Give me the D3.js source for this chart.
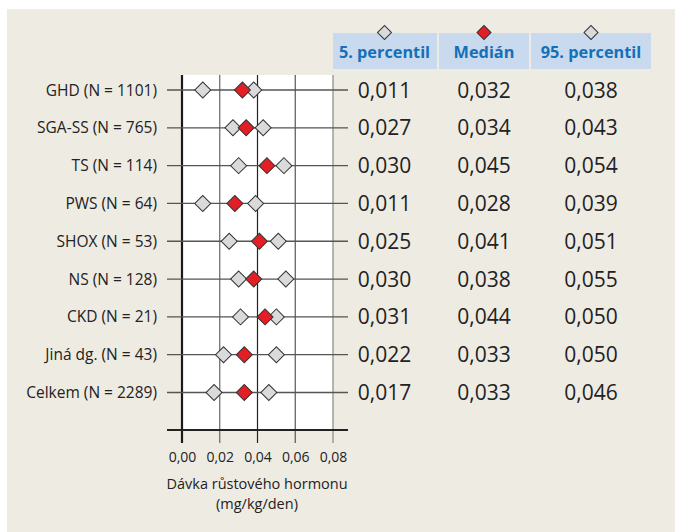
<!DOCTYPE html>
<html>
<head>
<meta charset="utf-8">
<script src="https://cdn.jsdelivr.net/npm/d3@7"></script>
<style>
  html, body { margin: 0; padding: 0; background: #ffffff; }
  svg { display: block; font-family: "Open Sans", "Noto Sans", sans-serif; }
</style>
</head>
<body>
<svg id="chart" width="675" height="532"></svg>
<script>
// Growth hormone dose by diagnosis (mg/kg/den)
const categories = [
  "GHD (N = 1101)", "SGA-SS (N = 765)", "TS (N = 114)", "PWS (N = 64)",
  "SHOX (N = 53)", "NS (N = 128)", "CKD (N = 21)", "Jiná dg. (N = 43)", "Celkem (N = 2289)"
];
const p5     = [0.011, 0.027, 0.030, 0.011, 0.025, 0.030, 0.031, 0.022, 0.017];
const median = [0.032, 0.034, 0.045, 0.028, 0.041, 0.038, 0.044, 0.033, 0.033];
const p95    = [0.038, 0.043, 0.054, 0.039, 0.051, 0.055, 0.050, 0.050, 0.046];
const xTicks = [0, 0.02, 0.04, 0.06, 0.08];
const columnTitles = ["5. percentil", "Medián", "95. percentil"];

const svg = d3.select("#chart");

// panel background
svg.append("rect").attr("x", 7).attr("y", 9).attr("width", 668).attr("height", 523).attr("fill", "#eeebe3");

const x = d3.scaleLinear().domain([0, 0.08]).range([182, 333]);
const y = d3.scalePoint().domain(categories).range([90, 392.5]);
const plotTop = 75, plotBottom = 430;

const grey = "#d9dadc", red = "#e31e25", edge = "#333";
const diamond = d3.symbol().type(d3.symbolSquare).size(128);
const smallDiamond = d3.symbol().type(d3.symbolSquare).size(98);
const fmt = v => d3.format(".3f")(v).replace(".", ",");

// white plot field
svg.append("rect")
  .attr("x", x(0)).attr("y", plotTop)
  .attr("width", x(0.08) - x(0)).attr("height", plotBottom - plotTop)
  .attr("fill", "#ffffff");

// vertical grid lines (extend below the axis as ticks)
const gridColor = ["#1a1a1a", "#666", "#222", "#555", "#888"];
svg.append("g").selectAll("line").data(xTicks).join("line")
  .attr("x1", d => x(d)).attr("x2", d => x(d))
  .attr("y1", plotTop).attr("y2", 443)
  .attr("stroke", (d, i) => gridColor[i])
  .attr("stroke-width", (d, i) => i === 0 ? 2.2 : 1.2);

// row lines
svg.append("g").selectAll("line").data(categories).join("line")
  .attr("x1", 167).attr("x2", 348)
  .attr("y1", d => y(d)).attr("y2", d => y(d))
  .attr("stroke", "#555").attr("stroke-width", 1.3);

// bottom axis
const axis = d3.axisBottom(x).tickValues(xTicks).tickFormat(d => d3.format(".2f")(d).replace(".", ",")).tickSize(0).tickPadding(22);
const ax = svg.append("g").attr("transform", `translate(0,${plotBottom})`).call(axis);
ax.select(".domain").remove();
ax.selectAll("text").attr("font-size", 14).attr("fill", "#222").attr("font-family", "Open Sans");
svg.append("line").attr("x1", 167).attr("x2", 348).attr("y1", plotBottom).attr("y2", plotBottom)
  .attr("stroke", "#222").attr("stroke-width", 2);

// axis title
svg.append("text").attr("x", 257).attr("y", 489).attr("text-anchor", "middle")
  .attr("font-size", 14.5).attr("fill", "#222").text("Dávka růstového hormonu");
svg.append("text").attr("x", 257).attr("y", 508.5).attr("text-anchor", "middle")
  .attr("font-size", 14.5).attr("fill", "#222").text("(mg/kg/den)");

// row labels
svg.append("g").selectAll("text").data(categories).join("text")
  .attr("x", 157).attr("y", d => y(d) + 5.5)
  .attr("text-anchor", "end").attr("font-size", 15.5).attr("fill", "#222")
  .text(d => d);

// markers
const rows = categories.map((c, i) => ({ c, p5: p5[i], med: median[i], p95: p95[i] }));
const markers = svg.append("g");
function drawMarkers(key, fill) {
  markers.append("g").selectAll("path").data(rows).join("path")
    .attr("d", diamond)
    .attr("transform", d => `translate(${x(d[key])},${y(d.c)}) rotate(45)`)
    .attr("fill", fill).attr("stroke", edge).attr("stroke-width", 1);
}
drawMarkers("p5", grey);
drawMarkers("p95", grey);
drawMarkers("med", red);

// table header
const colCenter = [384.5, 484, 591];
const colBox = [[333, 437], [439, 529], [531, 651]];
const colFill = [grey, red, grey];
const hdr = svg.append("g");
hdr.selectAll("rect").data(columnTitles).join("rect")
  .attr("x", (d, i) => colBox[i][0]).attr("y", 33)
  .attr("width", (d, i) => colBox[i][1] - colBox[i][0]).attr("height", 36)
  .attr("fill", "#c9d9ee");
hdr.selectAll("text").data(columnTitles).join("text")
  .attr("x", (d, i) => colCenter[i]).attr("y", 57.5)
  .attr("text-anchor", "middle").attr("font-size", 16.3).attr("font-weight", "bold")
  .attr("fill", "#1470b8").text(d => d);
hdr.selectAll("path").data(columnTitles).join("path")
  .attr("d", smallDiamond)
  .attr("transform", (d, i) => `translate(${colCenter[i]},32.5) rotate(45)`)
  .attr("fill", (d, i) => colFill[i]).attr("stroke", edge).attr("stroke-width", 1);

// table values
const cols = [p5, median, p95];
const tbl = svg.append("g");
cols.forEach((vals, ci) => {
  tbl.append("g").selectAll("text").data(categories).join("text")
    .attr("x", colCenter[ci]).attr("y", d => y(d) + 7.5)
    .attr("text-anchor", "middle").attr("font-size", 21).attr("fill", "#222")
    .text((d, i) => fmt(vals[i]));
});
</script>
</body>
</html>
